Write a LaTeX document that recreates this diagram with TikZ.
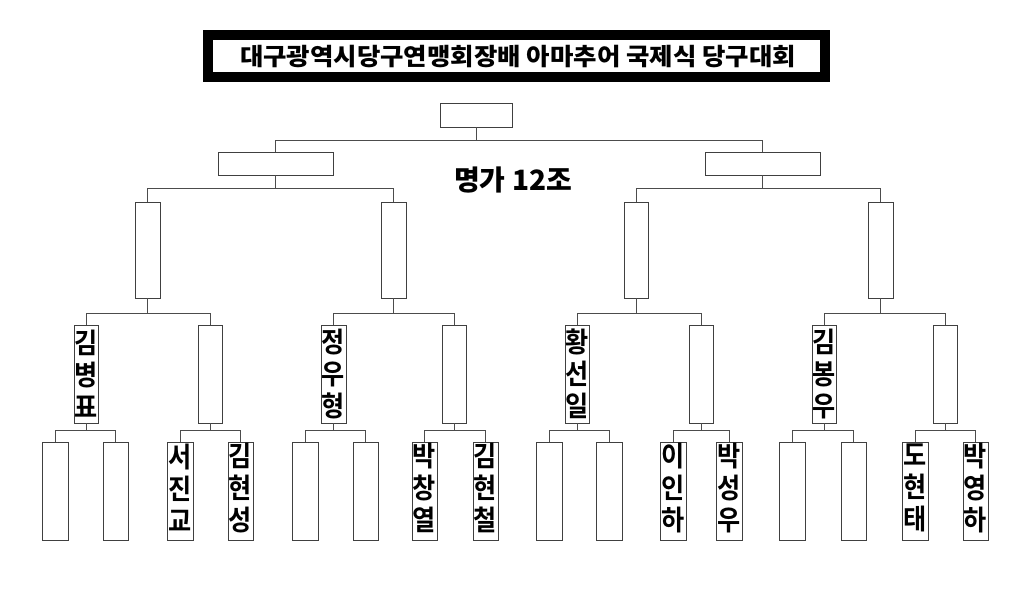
\documentclass[tikz,border=0pt]{standalone}
\usepackage{fontspec}
\newfontfamily\kr{Noto Sans CJK KR Bold}
\newfontfamily\krb{Noto Sans CJK KR Black}
\begin{document}
\begin{tikzpicture}[x=1pt,y=-1pt,
  bx/.style={draw=black!75,line width=0.7pt,inner sep=0,fill=none},
  ln/.style={draw=black!70,line width=0.6pt},
  nm/.style={font=\kr\fontsize{28}{32}\selectfont,align=center,inner sep=0,xscale=0.9}]
\useasboundingbox (0,0) rectangle (1024,614);
\newcommand\bx[5]{\node[bx,minimum width={#4-#2},minimum height={#5-#3}] (#1) at ({(#2+#4)/2},{(#3+#5)/2}) {};}
% title
\draw[line width=10pt] (208,35) rectangle (825,77);
\node[font=\krb\fontsize{24}{26}\selectfont,xscale=1.06] (title) at (518,57) {대구광역시당구연맹회장배 아마추어 국제식 당구대회};
\node[font=\krb\fontsize{28}{30}\selectfont] (grp) at (513,180) {명가 12조};
% boxes
\bx{r}{440}{103}{512}{127}
\bx{a}{218}{152}{333}{175} \bx{b}{705}{152}{820}{175}
\bx{a1}{135}{202}{160}{298} \bx{a2}{381}{202}{406}{298}
\bx{b1}{624}{202}{648}{298} \bx{b2}{868}{202}{893}{298}
\bx{c1}{74}{325}{98}{423} \bx{c2}{198}{325}{222}{423}
\bx{c3}{321}{325}{346}{423} \bx{c4}{442}{325}{466}{423}
\bx{c5}{565}{325}{589}{423} \bx{c6}{689}{325}{713}{423}
\bx{c7}{812}{325}{836}{423} \bx{c8}{933}{325}{957}{423}
\bx{d1}{42}{442}{68}{540} \bx{d2}{103}{442}{128}{540}
\bx{d3}{167}{442}{193}{540} \bx{d4}{228}{442}{253}{540}
\bx{d5}{292}{442}{318}{540} \bx{d6}{353}{442}{378}{540}
\bx{d7}{412}{442}{437}{540} \bx{d8}{473}{442}{498}{540}
\bx{d9}{536}{442}{562}{540} \bx{d10}{596}{442}{622}{540}
\bx{d11}{660}{442}{686}{540} \bx{d12}{716}{442}{742}{540}
\bx{d13}{779}{442}{805}{540} \bx{d14}{841}{442}{866}{540}
\bx{d15}{902}{442}{928}{540} \bx{d16}{963}{442}{988}{540}
% connectors
\newcommand\br[4]{\draw[ln] (#1.south) -- ++(0,#4) coordinate (m#1); \draw[ln] (#2.north) |- (m#1) -| (#3.north);}
\br{r}{a}{b}{13}
\br{a}{a1}{a2}{13} \br{b}{b1}{b2}{13}
\br{a1}{c1}{c2}{15} \br{a2}{c3}{c4}{15} \br{b1}{c5}{c6}{15} \br{b2}{c7}{c8}{15}
\br{c1}{d1}{d2}{7} \br{c2}{d3}{d4}{7} \br{c3}{d5}{d6}{7} \br{c4}{d7}{d8}{7}
\br{c5}{d9}{d10}{7} \br{c6}{d11}{d12}{7} \br{c7}{d13}{d14}{7} \br{c8}{d15}{d16}{7}
% names
\node[nm] (n1) at (c1) {김\\병\\표};
\node[nm] (n2) at (c3) {정\\우\\형};
\node[nm] (n3) at (c5) {황\\선\\일};
\node[nm] (n4) at (c7) {김\\봉\\우};
\node[nm] (n5) at ([yshift=3]d3) {서\\진\\교};
\node[nm] (n6) at ([yshift=3]d4) {김\\현\\성};
\node[nm] (n7) at ([yshift=3]d7) {박\\창\\열};
\node[nm] (n8) at ([yshift=3]d8) {김\\현\\철};
\node[nm] (n9) at ([yshift=3]d11) {이\\인\\하};
\node[nm] (n10) at ([yshift=3]d12) {박\\성\\우};
\node[nm] (n11) at ([yshift=3]d15) {도\\현\\태};
\node[nm] (n12) at ([yshift=3]d16) {박\\영\\하};
\end{tikzpicture}
\end{document}
